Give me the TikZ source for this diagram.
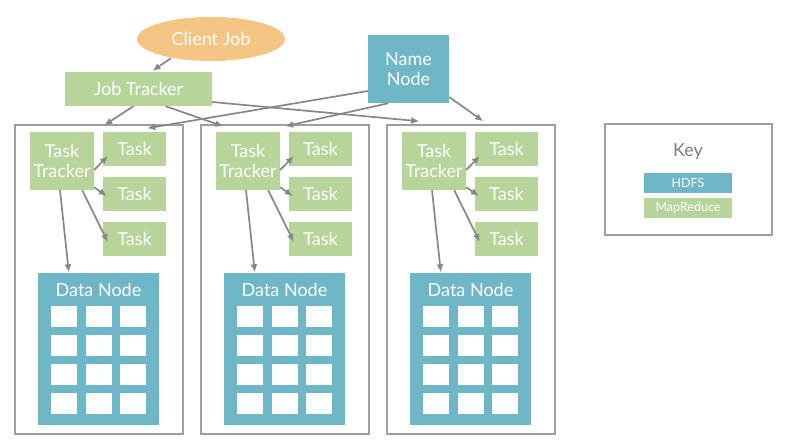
\documentclass[tikz,border=0pt]{standalone}
\usepackage{fontspec}
\setmainfont{Lato}
\usetikzlibrary{arrows.meta,calc,shapes.geometric}
\definecolor{mrgreen}{RGB}{183,213,155}
\definecolor{hdfsblue}{RGB}{111,182,199}
\definecolor{clientorange}{RGB}{244,197,131}
\definecolor{linkgray}{RGB}{135,135,135}
\definecolor{framegray}{RGB}{158,158,158}
\definecolor{keygray}{RGB}{125,125,125}
\begin{document}
\begin{tikzpicture}[x=1pt,y=-1pt,
  lbl/.style={text=white, inner sep=0pt, align=center,
    font=\fontsize{18}{20}\selectfont},
  mr/.style={lbl, fill=mrgreen},
  hdfs/.style={lbl, fill=hdfsblue},
  frame/.style={draw=framegray, line width=1.5pt, inner sep=0pt},
  link/.style={draw=linkgray, line width=1.7pt, -{Latex[length=8pt,width=7pt]}},
  cell/.style={fill=white, minimum width=26pt, minimum height=21pt, inner sep=0pt},
  keychip/.style={text=white, inner sep=0pt, minimum width=88pt, minimum height=20pt,
    font=\fontsize{12.5}{14}\selectfont},
]
\useasboundingbox (0,0) rectangle (800,443);

% client, job tracker, name node
\node[ellipse, fill=clientorange, lbl, minimum width=148pt, minimum height=44pt] (cj) at (211,39) {Client Job};
\node[mr, minimum width=147pt, minimum height=34pt] (jt) at (138.5,89) {Job Tracker};
\node[hdfs, minimum width=81pt, minimum height=68pt] (nn) at (408.5,69) {Name\\Node};

% one cluster machine per column
\foreach \i/\dx in {1/0,2/186,3/372}{
  \node[frame, minimum width=168pt, minimum height=309pt] (box\i) at (99+\dx,279.5) {};
  \node[mr, minimum width=64pt, minimum height=58pt] (tt\i) at (62+\dx,161) {Task\\Tracker};
  \node[mr, minimum width=63pt, minimum height=34pt] (ta\i) at (134.5+\dx,149) {Task};
  \node[mr, minimum width=63pt, minimum height=34pt] (tb\i) at (134.5+\dx,194) {Task};
  \node[mr, minimum width=63pt, minimum height=34pt] (tc\i) at (134.5+\dx,239) {Task};
  \node[hdfs, minimum width=121pt, minimum height=151pt] (dn\i) at (98.5+\dx,349) {};
  \node[lbl] (dnl\i) at (98.5+\dx,290) {Data Node};
  \foreach \r/\ry in {1/317,2/345.5,3/374.5,4/403.5}{
    \foreach \c/\cx in {1/64,2/98.5,3/133}{
      \node[cell] (blk\i\r\c) at (\cx+\dx,\ry) {};
    }
  }
  \draw[link] ($(tt\i.east)+(0,9)$) -- ($(ta\i.west)+(5,7)$);
  \draw[link] ($(tt\i.south east)+(0,-3)$) -- ($(tb\i.west)+(4,2)$);
  \draw[link] ($(tt\i.south east)+(-12,0)$) -- ($(tc\i.west)+(5,3)$);
  \draw[link] ($(tt\i.south)+(-2,0)$) -- ($(dn\i.north west)+(31,-1)$);
}

% entry points on the machine frames
\coordinate (jtin1) at ($(box1.north west)+(90,1)$);
\coordinate (jtin2) at ($(box2.north west)+(23,2)$);
\coordinate (jtin3) at ($(box3.north west)+(33,-3)$);
\coordinate (nnin1) at ($(box1.north west)+(133,4)$);
\coordinate (nnin2) at ($(box2.north west)+(85,2)$);
\coordinate (nnin3) at ($(box3.north west)+(97,-3)$);

\draw[link] ($(cj.south)+(-40,-3)$) -- ($(jt.north)+(14,-1)$);
\draw[link] ($(jt.south)+(-5,0)$) -- (jtin1);
\draw[link] ($(jt.south)+(27,0)$) -- (jtin2);
\draw[link] ($(jt.east)+(0,13)$) -- (jtin3);
\draw[link] ($(nn.west)+(0,22)$) -- (nnin1);
\draw[link] ($(nn.south)+(-20,0)$) -- (nnin2);
\draw[link] ($(nn.east)+(0,28)$) -- (nnin3);

% legend
\node[frame, minimum width=167pt, minimum height=111pt] (key) at (688.5,179.5) {};
\node[text=keygray, inner sep=0pt, font=\fontsize{18}{20}\selectfont] (keyt) at (688,152) {Key};
\node[keychip, fill=hdfsblue] (khdfs) at (688,183) {HDFS};
\node[keychip, fill=mrgreen] (kmr) at (688,208) {MapReduce};
\end{tikzpicture}
\end{document}
